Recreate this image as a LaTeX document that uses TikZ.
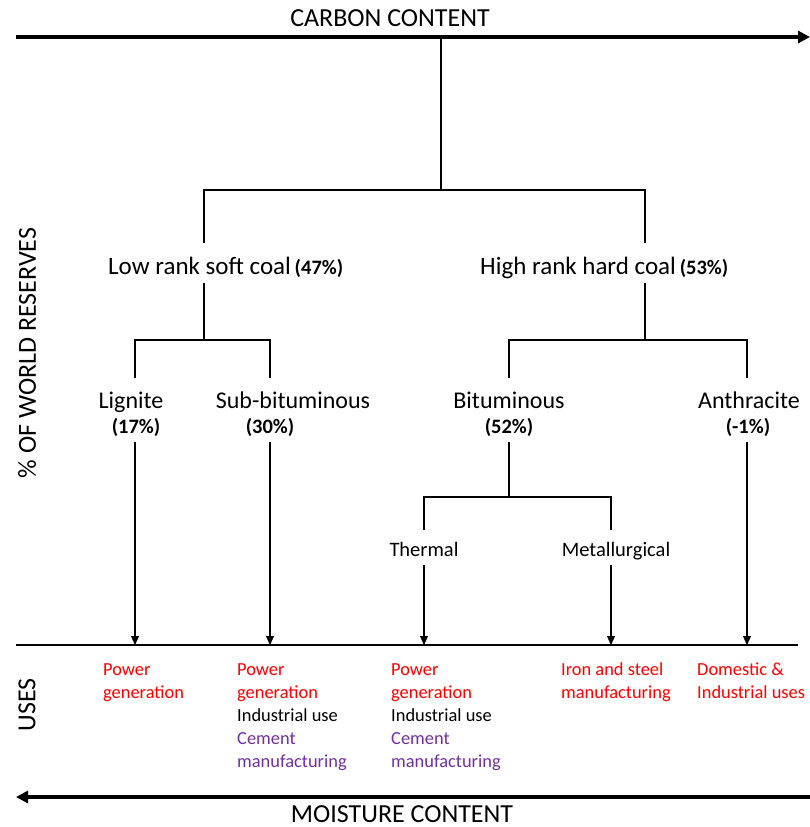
\documentclass[tikz,border=0pt]{standalone}
\usepackage{fontspec}
\setmainfont{Carlito}
\usetikzlibrary{arrows.meta}
\definecolor{usered}{RGB}{255,0,0}
\definecolor{usepurple}{RGB}{112,48,160}
\begin{document}
\begin{tikzpicture}[x=1pt,y=-1pt,
  axistitle/.style={font=\fontsize{26}{30}\selectfont, inner sep=0pt, anchor=base},
  lbl/.style={font=\fontsize{24}{28}\selectfont, inner sep=0pt, anchor=base},
  toplbl/.style={font=\fontsize{25}{29}\selectfont, inner sep=0pt, anchor=base},
  pct/.style={font=\fontsize{20.5}{24}\selectfont\bfseries, inner sep=0pt, anchor=base},
  sublbl/.style={font=\fontsize{20.5}{24}\selectfont, inner sep=0pt, anchor=base},
  usetext/.style={font=\fontsize{18.4}{23}\selectfont, inner sep=0pt, anchor=north west, align=left},
  bigarrow/.style={line width=4pt, -{Triangle[length=12pt,width=12pt]}},
  tree/.style={line width=1.1pt},
  downarrow/.style={line width=1.1pt, -{Triangle[length=9pt,width=8pt]}}]
\useasboundingbox (0,0) rectangle (810,827);

% axes
\coordinate (topL) at (16,37);
\coordinate (topR) at (810,37);
\coordinate (botR) at (810,797);
\coordinate (botL) at (16,797);
\draw[bigarrow] (topL) -- (topR);
\draw[bigarrow] (botR) -- (botL);
\node[axistitle] (carbon) at (390,27) {CARBON CONTENT};
\node[axistitle] (moisture) at (402,822) {MOISTURE CONTENT};
\node[axistitle, rotate=90, anchor=center] (reserves) at (27,353) {\% OF WORLD RESERVES};
\node[axistitle, rotate=90, anchor=center] (uses) at (27,705) {USES};

% uses line
\coordinate (useL) at (16,645);
\coordinate (useR) at (798,645);
\draw[line width=1.4pt] (useL) -- (useR);

% level 1
\coordinate (root) at (441,37);
\coordinate (split1) at (441,190);
\coordinate (lowTop) at (204,243);
\coordinate (highTop) at (645,243);
\draw[tree] (root) -- (split1);
\draw[tree] (lowTop) |- (split1) -| (highTop);

\node[toplbl, anchor=base west] (low) at (108,274) {Low rank soft coal};
\node[pct, anchor=base west] (lowpct) at (low.base east) {\,(47\%)};
\node[toplbl, anchor=base west] (high) at (480,274) {High rank hard coal};
\node[pct, anchor=base west] (highpct) at (high.base east) {\,(53\%)};

% level 2 low
\coordinate (lowBot) at (204,283);
\coordinate (split2) at (204,340);
\coordinate (ligTop) at (135,378);
\coordinate (subTop) at (270,378);
\draw[tree] (lowBot) -- (split2);
\draw[tree] (ligTop) |- (split2) -| (subTop);

% level 2 high
\coordinate (highBot) at (645,283);
\coordinate (split3) at (645,340);
\coordinate (bitTop) at (509,378);
\coordinate (antTop) at (747,378);
\draw[tree] (highBot) -- (split3);
\draw[tree] (bitTop) |- (split3) -| (antTop);

\node[lbl] (lignite) at (131,408) {Lignite};
\node[pct] (ligpct) at (136,433) {(17\%)};
\node[lbl] (subbit) at (293,408) {Sub-bituminous};
\node[pct] (subpct) at (270,433) {(30\%)};
\node[lbl] (bit) at (509,408) {Bituminous};
\node[pct] (bitpct) at (509,433) {(52\%)};
\node[lbl] (anth) at (749,408) {Anthracite};
\node[pct] (anthpct) at (748,433) {(-1\%)};

% level 3
\coordinate (bitBot) at (509,442);
\coordinate (split4) at (509,497);
\coordinate (thTop) at (424,530);
\coordinate (metTop) at (611,530);
\draw[tree] (bitBot) -- (split4);
\draw[tree] (thTop) |- (split4) -| (metTop);
\node[sublbl] (thermal) at (424,556) {Thermal};
\node[sublbl] (metal) at (616,556) {Metallurgical};

% arrows to uses
\coordinate (ligBot) at (135,442);
\coordinate (subBot) at (270,442);
\coordinate (thBot) at (424,565);
\coordinate (metBot) at (611,565);
\coordinate (antBot) at (747,442);
\draw[downarrow] (ligBot) -- (ligBot |- useL);
\draw[downarrow] (subBot) -- (subBot |- useL);
\draw[downarrow] (thBot) -- (thBot |- useL);
\draw[downarrow] (metBot) -- (metBot |- useL);
\draw[downarrow] (antBot) -- (antBot |- useL);

% uses text
\node[usetext] (use1) at (103,663) {\textcolor{usered}{Power}\\\textcolor{usered}{generation}};
\node[usetext] (use2) at (237,663) {\textcolor{usered}{Power}\\\textcolor{usered}{generation}\\Industrial use\\\textcolor{usepurple}{Cement}\\\textcolor{usepurple}{manufacturing}};
\node[usetext] (use3) at (391,663) {\textcolor{usered}{Power}\\\textcolor{usered}{generation}\\Industrial use\\\textcolor{usepurple}{Cement}\\\textcolor{usepurple}{manufacturing}};
\node[usetext] (use4) at (561,663) {\textcolor{usered}{Iron and steel}\\\textcolor{usered}{manufacturing}};
\node[usetext] (use5) at (697,663) {\textcolor{usered}{Domestic \&}\\\textcolor{usered}{Industrial uses}};
\end{tikzpicture}
\end{document}
